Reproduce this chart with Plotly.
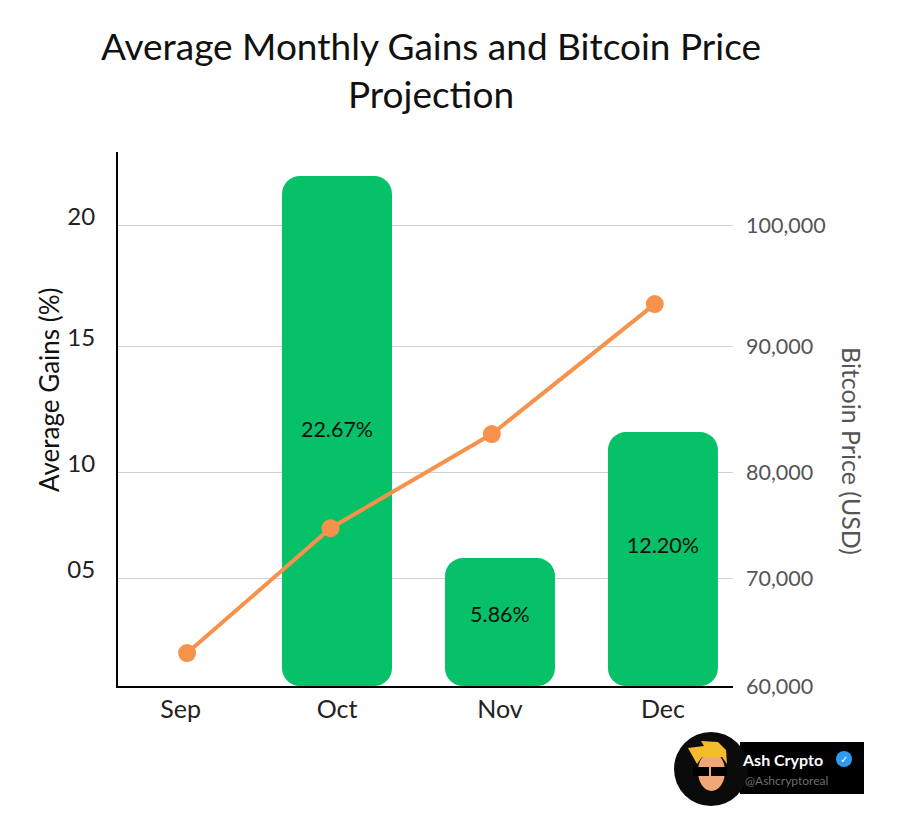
import plotly.graph_objects as go

months = ["Sep", "Oct", "Nov", "Dec"]
month_ticks = [0.04, 1, 2, 3]

# printed labels and the bar heights as drawn (the chart's scale is uneven)
gain_labels = [22.67, 5.86, 12.20]
bar_months = [1, 2, 3]
bar_heights = [22.13, 5.55, 11.02]
label_heights = [11.03, 3.0, 6.0]

line_months = [0.08, 0.96, 1.95, 2.95]
btc_price = [62860, 73700, 81870, 93150]

gain_ticks = [5.03, 9.63, 15.1, 20.35]
gain_tick_text = ["05", "10", "15", "20"]
price_ticks = [60000, 69370, 78570, 89500, 100000]
price_tick_text = ["60,000", "70,000", "80,000", "90,000", "100,000"]

FONT = "Lato"
GREEN = "#06c167"
ORANGE = "#f7924a"
GREY = "#555555"


def px(x):
    return (x - 118) / 615


def py(y):
    return (686 - y) / 534


fig = go.Figure()
# an explicit base makes plotly round both ends of the bar
fig.add_trace(go.Bar(x=bar_months, y=bar_heights, base=[0, 0, 0], width=0.675,
                     marker=dict(color=GREEN, cornerradius=18, line_width=0),
                     showlegend=False, hoverinfo="skip"))
fig.add_trace(go.Scatter(x=bar_months, y=label_heights, mode="text",
                         text=[f"{v:.2f}%" for v in gain_labels],
                         textfont=dict(family=FONT, size=21.5, color="#111111"),
                         showlegend=False, hoverinfo="skip"))
fig.add_trace(go.Scatter(x=line_months, y=btc_price, yaxis="y2", mode="lines+markers",
                         line=dict(color=ORANGE, width=4),
                         marker=dict(color=ORANGE, size=18),
                         showlegend=False))

# badge in the bottom corner
shapes = [
    dict(type="rect", x0=px(740), x1=px(864), y0=py(794), y1=py(742),
         fillcolor="black", line_width=0),
    dict(type="circle", x0=px(674), x1=px(748), y0=py(806), y1=py(732),
         fillcolor="#0b0b0b", line_width=0),
    dict(type="circle", x0=px(698), x1=px(725), y0=py(791), y1=py(752),
         fillcolor="#f0a878", line_width=0),
    dict(type="path", fillcolor="#f4bb2c", line_width=0,
         path=f"M {px(688)} {py(748)} L {px(704)} {py(746)} L {px(701)} {py(741)} "
              f"L {px(718)} {py(742)} L {px(726)} {py(750)} L {px(727)} {py(764)} "
              f"L {px(722)} {py(757)} L {px(702)} {py(757)} L {px(697)} {py(764)} Z"),
    dict(type="rect", x0=px(693), x1=px(709), y0=py(776), y1=py(767),
         fillcolor="black", line_width=0),
    dict(type="rect", x0=px(711), x1=px(727), y0=py(776), y1=py(767),
         fillcolor="black", line_width=0),
    dict(type="circle", x0=px(836), x1=px(852), y0=py(767), y1=py(751),
         fillcolor="#2d9cf0", line_width=0),
]
for s in shapes:
    s.update(xref="paper", yref="paper")

annotations = [
    dict(text="Average Gains (%)", x=px(49), y=py(390), textangle=-90,
         font=dict(family=FONT, size=26, color="#111111")),
    dict(text="Bitcoin Price (USD)", x=px(852), y=py(451), textangle=90,
         font=dict(family=FONT, size=25, color=GREY)),
    dict(text="<b>Ash Crypto</b>", x=px(782), y=py(759),
         font=dict(family=FONT, size=16, color="white")),
    dict(text="@Ashcryptoreal", x=px(786), y=py(780),
         font=dict(family=FONT, size=12, color="#6e6e6e")),
    dict(text="<b>✓</b>", x=px(844), y=py(759),
         font=dict(family="DejaVu Sans", size=10, color="white")),
]
for a in annotations:
    a.update(xref="paper", yref="paper", xanchor="center", yanchor="middle", showarrow=False)

# page has an 8px body margin, so the figure is 8px smaller than the window
fig.update_layout(
    width=892, height=807,
    margin=dict(l=110, r=167, t=144, b=129, autoexpand=False),
    paper_bgcolor="white", plot_bgcolor="white",
    title=dict(text="Average Monthly Gains and Bitcoin Price<br>Projection",
               x=423 / 892, xanchor="center", y=1 - 52 / 807, yanchor="middle",
               font=dict(family=FONT, size=37, color="#111111")),
    xaxis=dict(range=[-0.344, 3.43], tickvals=month_ticks, ticktext=months,
               showgrid=False, zeroline=False, showline=True, linecolor="black", linewidth=2,
               ticks="", tickfont=dict(family=FONT, size=25, color="#222222")),
    yaxis=dict(range=[0, 23.17], tickvals=gain_ticks, ticktext=gain_tick_text,
               showgrid=False, zeroline=False, showline=True, linecolor="black", linewidth=2,
               ticks="", ticklabelstandoff=16,
               tickfont=dict(family=FONT, size=24, color="#222222")),
    yaxis2=dict(range=[60000, 106350], overlaying="y", side="right",
                tickvals=price_ticks, ticktext=price_tick_text,
                showgrid=True, gridcolor="#d0d0d0", gridwidth=1, zeroline=False, showline=False,
                ticks="", ticklabelstandoff=12,
                tickfont=dict(family=FONT, size=21.5, color=GREY)),
    shapes=shapes,
    annotations=annotations,
)

fig.write_html("out.html")
